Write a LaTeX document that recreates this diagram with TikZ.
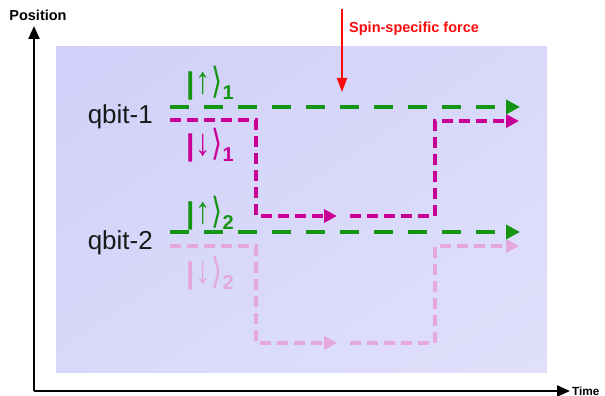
\documentclass[tikz,border=0pt]{standalone}
\usepackage{graphicx}
\usepackage{fontspec}
\setmainfont{Liberation Sans}
\newfontfamily\djv{DejaVu Sans}
\usetikzlibrary{arrows.meta,shadings}
\definecolor{bgA}{RGB}{208,208,249}
\definecolor{bgM}{RGB}{216,216,250}
\definecolor{bgB}{RGB}{224,224,252}
\definecolor{qgreen}{RGB}{20,150,20}
\definecolor{qmag}{RGB}{200,0,150}
\definecolor{qpink}{RGB}{228,168,222}
\definecolor{fred}{RGB}{250,10,10}
\newcommand{\myket}[2]{{\fontsize{30}{30}\selectfont\bfseries|}\kern1pt\raisebox{0pt}{\scalebox{1.1}[1.35]{\fontsize{28}{28}\selectfont\bfseries #1}}\kern0.5pt\scalebox{0.95}[1.2]{\fontsize{30}{30}\selectfont\djv ⟩}\raisebox{-6pt}{\fontsize{20}{20}\selectfont\bfseries #2}}
\tikzset{
 axis/.style={line width=2.2pt, -{Triangle[length=13pt,width=11pt]}},
 greenpath/.style={qgreen, line width=4.5pt, dash pattern=on 19pt off 15pt, -{Triangle[length=14pt,width=14pt]}},
 magpath/.style={qmag, line width=4.5pt, dash pattern=on 11pt off 6pt, -{Triangle[length=13pt,width=13pt]}},
 pinkpath/.style={magpath, qpink},
 lbl/.style={font=\fontsize{26}{26}\selectfont, text=black!90, inner sep=0pt, anchor=base east},
 axlbl/.style={font=\bfseries\fontsize{14.5}{14.5}\selectfont, inner sep=0pt},
 ket/.style={inner sep=0pt, anchor=base west},
}
\begin{document}
\begin{tikzpicture}[x=1pt,y=-1pt]
\useasboundingbox (0,0) rectangle (605,396);
% background panel
\shade[upper left=bgA, upper right=bgM, lower left=bgM, lower right=bgB] (56,47) rectangle (547,372);
% axes
\coordinate (O) at (34,391);
\coordinate (ytip) at (34,26);
\coordinate (xtip) at (570,391);
\draw[axis] (O) -- (ytip);
\draw[axis] (O) -- (xtip);
\node[axlbl] (pos) at (38,15) {Position};
\node[axlbl, font=\bfseries\fontsize{11.8}{11.8}\selectfont, anchor=west] (time) at (572,391) {Time};
% force arrow
\coordinate (fs) at (342,9);
\coordinate (fe) at (342,92);
\draw[fred, line width=2pt, -{Triangle[length=14pt,width=10pt]}] (fs) -- (fe);
\node[axlbl, text=fred, anchor=west] (force) at (349,29) {Spin-specific force};
% qubit labels
\node[lbl] (q1) at (153,123) {qbit-1};
\node[lbl] (q2) at (153,249) {qbit-2};
% coordinates of paths
\coordinate (g1s) at (170,107); \coordinate (g1e) at (520,107);
\coordinate (g2s) at (170,232); \coordinate (g2e) at (520,232);
\coordinate (m1a) at (170,120); \coordinate (m1b) at (256,120);
\coordinate (m1c) at (256,216); \coordinate (m1d) at (337,216);
\coordinate (m1e) at (350,216); \coordinate (m1f) at (435,216);
\coordinate (m1g) at (435,121); \coordinate (m1h) at (519,121);
\coordinate (p2a) at (170,246); \coordinate (p2b) at (256,246);
\coordinate (p2c) at (256,343); \coordinate (p2d) at (337,343);
\coordinate (p2e) at (350,343); \coordinate (p2f) at (435,343);
\coordinate (p2g) at (435,246); \coordinate (p2h) at (519,246);
% pink (qubit 2 down)
\draw[pinkpath] (p2a) -- (p2b) -- (p2c) -- (p2d);
\draw[pinkpath] (p2e) -- (p2f) -- (p2g) -- (p2h);
% magenta (qubit 1 down)
\draw[magpath] (m1a) -- (m1b) -- (m1c) -- (m1d);
\draw[magpath] (m1e) -- (m1f) -- (m1g) -- (m1h);
% green lines
\draw[greenpath] (g1s) -- (g1e);
\draw[greenpath] (g2s) -- (g2e);
% kets
\node[ket, text=qgreen] (k1u) at (186,93) {\myket{↑}{1}};
\node[ket, text=qmag] (k1d) at (186,155) {\myket{↓}{1}};
\node[ket, text=qgreen] (k2u) at (186,223) {\myket{↑}{2}};
\node[ket, text=qpink] (k2d) at (186,283) {\myket{↓}{2}};
\end{tikzpicture}
\end{document}
